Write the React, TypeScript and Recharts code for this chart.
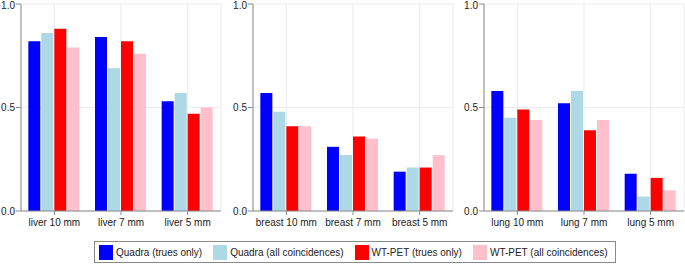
import { Bar, BarChart, CartesianGrid, XAxis, YAxis } from "recharts";

const SERIES_NAMES = [
  "Quadra (trues only)",
  "Quadra (all coincidences)",
  "WT-PET (trues only)",
  "WT-PET (all coincidences)",
];
const SERIES_COLORS = ["#0000ff", "#add8e6", "#ff0000", "#ffc0cb"];
const Y_TICKS = [0, 0.5, 1];

const liverCategories = ["liver 10 mm", "liver 7 mm", "liver 5 mm"];
const liverQuadraTrues = [0.82, 0.84, 0.53];
const liverQuadraAll = [0.86, 0.69, 0.57];
const liverWtTrues = [0.88, 0.82, 0.47];
const liverWtAll = [0.79, 0.76, 0.5];

const breastCategories = ["breast 10 mm", "breast 7 mm", "breast 5 mm"];
const breastQuadraTrues = [0.57, 0.31, 0.19];
const breastQuadraAll = [0.48, 0.27, 0.21];
const breastWtTrues = [0.41, 0.36, 0.21];
const breastWtAll = [0.41, 0.35, 0.27];

const lungCategories = ["lung 10 mm", "lung 7 mm", "lung 5 mm"];
const lungQuadraTrues = [0.58, 0.52, 0.18];
const lungQuadraAll = [0.45, 0.58, 0.07];
const lungWtTrues = [0.49, 0.39, 0.16];
const lungWtAll = [0.44, 0.44, 0.1];

const FONT = "'Liberation Sans', Arial, sans-serif";
const FRAME = "#8a8a8a";
const TEXT = "#222";

function toRows(categories: string[], series: number[][]) {
  return categories.map((name, i) => {
    const row: Record<string, string | number> = { name };
    SERIES_NAMES.forEach((s, j) => {
      row[s] = series[j][i];
    });
    return row;
  });
}

const panels = [
  toRows(liverCategories, [liverQuadraTrues, liverQuadraAll, liverWtTrues, liverWtAll]),
  toRows(breastCategories, [breastQuadraTrues, breastQuadraAll, breastWtTrues, breastWtAll]),
  toRows(lungCategories, [lungQuadraTrues, lungQuadraAll, lungWtTrues, lungWtAll]),
];
const PANEL_LEFT = [0, 231.5, 462.5];

function Panel({ data }: { data: Record<string, string | number>[] }) {
  return (
    <BarChart
      width={231}
      height={235}
      data={data}
      margin={{ top: 4, right: 10, bottom: 0, left: 0 }}
      barCategoryGap="11%"
      barGap={1}
      style={{ overflow: "visible" }}
    >
      <CartesianGrid stroke="#ebebeb" />
      <XAxis
        dataKey="name"
        height={24}
        tickSize={4}
        tickMargin={4}
        interval={0}
        stroke={FRAME}
        tick={{ fontSize: 10, fill: TEXT, fontFamily: FONT }}
      />
      <XAxis
        xAxisId="top"
        dataKey="name"
        orientation="top"
        height={0}
        tick={false}
        tickLine={false}
        stroke={FRAME}
      />
      <YAxis
        width={21}
        domain={[0, 1]}
        ticks={Y_TICKS}
        tickFormatter={(v: number) => v.toFixed(1)}
        tickSize={5}
        tickMargin={1}
        stroke={FRAME}
        tick={{ fontSize: 10, fill: TEXT, fontFamily: FONT }}
      />
      <YAxis
        yAxisId="right"
        orientation="right"
        width={0}
        domain={[0, 1]}
        tick={false}
        tickLine={false}
        stroke={FRAME}
      />
      {SERIES_NAMES.map((s, i) => (
        <Bar key={s} dataKey={s} fill={SERIES_COLORS[i]} isAnimationActive={false} />
      ))}
    </BarChart>
  );
}

export default function App() {
  return (
    <div
      style={{
        position: "absolute",
        left: 0,
        top: 0,
        width: 685,
        height: 264,
        background: "#fff",
        fontFamily: FONT,
      }}
    >
      {panels.map((data, i) => (
        <div key={i} style={{ position: "absolute", left: PANEL_LEFT[i], top: 0 }}>
          <Panel data={data} />
        </div>
      ))}
      <div
        style={{
          position: "absolute",
          left: 94,
          top: 241,
          width: 516,
          height: 20,
          border: `1px solid ${FRAME}`,
          display: "flex",
          alignItems: "center",
          paddingLeft: 4,
          boxSizing: "content-box",
          gap: 11,
          fontSize: 10,
          color: TEXT,
          whiteSpace: "nowrap",
        }}
      >
        {SERIES_NAMES.map((s, i) => (
          <div key={s} style={{ display: "flex", alignItems: "center", gap: 3 }}>
            <span style={{ width: 14, height: 15, background: SERIES_COLORS[i], display: "inline-block" }} />
            <span>{s}</span>
          </div>
        ))}
      </div>
    </div>
  );
}
